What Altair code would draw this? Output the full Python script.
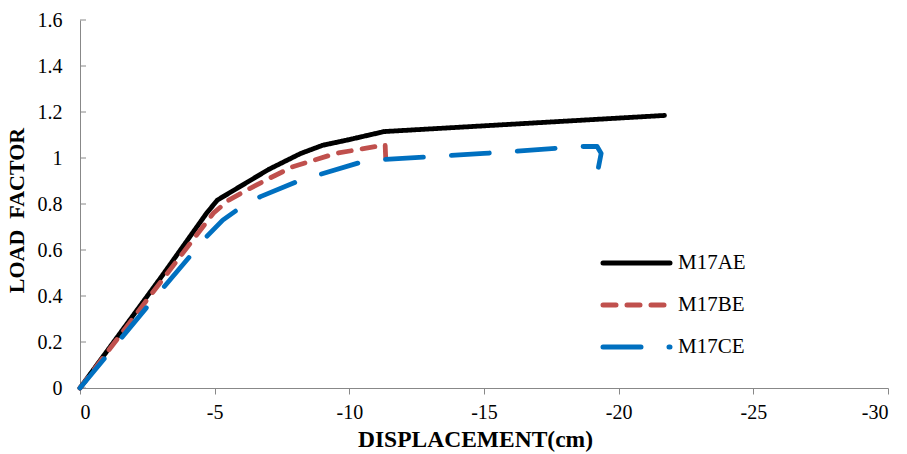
import altair as alt
import pandas as pd

a_x = [0, -1.5, -3.0, -4.7, -5.1, -6.0, -7.0, -8.2, -9.0, -10.0, -11.3, -21.7]
a_y = [0, 0.24, 0.48, 0.76, 0.817, 0.88, 0.95, 1.02, 1.055, 1.08, 1.115, 1.185]

b_x = [0, -2.5, -4.95, -5.5, -6.2, -7.0, -7.9, -9.5, -11.33, -11.35]
b_y = [0, 0.385, 0.76, 0.815, 0.861, 0.91, 0.962, 1.02, 1.057, 1.0]

c_x = [0, -2.6, -4.7, -5.3, -5.9, -6.7, -8.2, -10.5, -11.33, -15.0, -18.6, -19.2, -19.35, -19.25]
c_y = [0, 0.368, 0.658, 0.73, 0.78, 0.832, 0.904, 0.984, 0.994, 1.02, 1.05, 1.05, 1.02, 0.96]

series = ["M17AE", "M17BE", "M17CE"]
colors = ["#000000", "#c0504d", "#0070c0"]
dashes = [[1, 0], [13, 11], [38, 28]]

x_ticks = [0, -5, -10, -15, -20, -25, -30]
y_ticks = [0, 0.2, 0.4, 0.6, 0.8, 1.0, 1.2, 1.4, 1.6]

rows = []
for name, xs, ys in zip(series, [a_x, b_x, c_x], [a_y, b_y, c_y]):
    for i, (x, y) in enumerate(zip(xs, ys)):
        rows.append({"series": name, "x": x, "y": y, "order": i})
df = pd.DataFrame(rows)
ticks_df = pd.DataFrame({"y": y_ticks})
leg_df = pd.DataFrame({"series": series})

font = "Liberation Serif"

x_scale = alt.Scale(domain=[0, -30], nice=False)
y_scale = alt.Scale(domain=[0, 1.6], nice=False)
color_enc = alt.Color("series:N", scale=alt.Scale(domain=series, range=colors), legend=None)
dash_enc = alt.StrokeDash("series:N", scale=alt.Scale(domain=series, range=dashes), legend=None)

lines = alt.Chart(df).mark_line(strokeWidth=4.8, strokeCap="round", strokeJoin="round").encode(
    x=alt.X("x:Q", scale=x_scale,
            axis=alt.Axis(values=x_ticks, title="DISPLACEMENT(cm)",
                          labelExpr="datum.value == 0 ? '0' : '-' + abs(datum.value)",
                          labelFontSize=20, labelPadding=8, tickSize=6,
                          titleFontSize=23.5, titleX=395, titleY=39)),
    y=alt.Y("y:Q", scale=y_scale,
            axis=alt.Axis(values=y_ticks, title="LOAD\u00a0\u00a0FACTOR",
                          format="~g", ticks=False, labelPadding=18, labelFontSize=20,
                          titleFontSize=22, titleY=190, titleX=-52)),
    color=color_enc,
    strokeDash=dash_enc,
    order="order:Q",
    detail="series:N",
)

yticks = alt.Chart(ticks_df).mark_rule(color="#888888", strokeWidth=1).encode(
    y=alt.Y("y:Q", scale=y_scale, axis=None),
    x=alt.value(0),
    x2=alt.value(6),
)

leg_y = alt.Y("series:N", scale=alt.Scale(type="point", domain=series, range=[243, 327], padding=0),
              axis=None)

leg_sym = alt.Chart(leg_df).mark_rule(strokeWidth=5, strokeCap="round").encode(
    y=leg_y,
    x=alt.value(523),
    x2=alt.value(590),
    color=color_enc,
    strokeDash=dash_enc,
)

leg_txt = alt.Chart(leg_df).mark_text(align="left", baseline="middle", font=font, fontSize=21,
                                      color="#000").encode(
    y=leg_y,
    x=alt.value(598),
    text="series:N",
)

chart = alt.layer(yticks, lines, leg_sym, leg_txt).resolve_scale(y="independent").properties(
    width=808, height=368,
    padding={"left": 80, "top": 20, "right": 19, "bottom": 66},
    autosize=alt.AutoSizeParams(type="none"),
).configure_view(stroke=None).configure_axis(
    grid=False,
    domainColor="#888888", tickColor="#888888",
    labelFont=font, labelColor="#000",
    titleFont=font, titleFontWeight="bold", titleColor="#000",
)

chart.save("out.html", embed_options={"renderer": "svg", "actions": False})
